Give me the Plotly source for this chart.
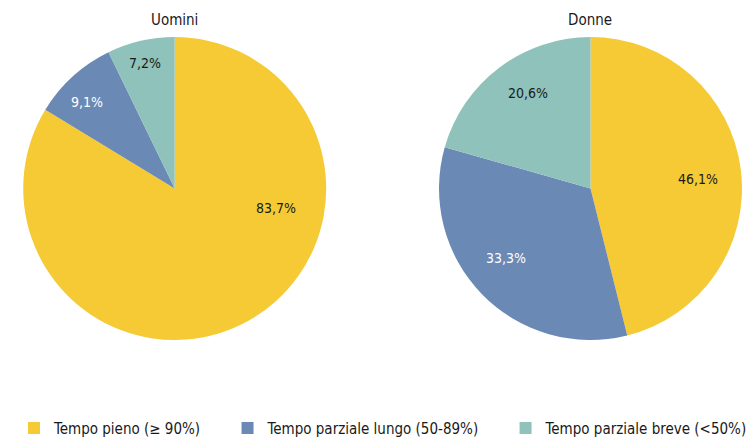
import math
import plotly.graph_objects as go

categories = ["Tempo pieno (≥ 90%)", "Tempo parziale lungo (50-89%)", "Tempo parziale breve (<50%)"]
uomini = [83.7, 9.1, 7.2]
donne = [46.1, 33.3, 20.6]
titles = ["Uomini", "Donne"]

# styles
colors = ["#F5CA35", "#6A89B4", "#8EC2BA"]
text_colors = ["#1a1a1a", "#ffffff", "#1a1a1a"]
FONT = "DejaVu Sans Condensed, Liberation Sans Narrow, sans-serif"
W, H = 754, 437
domains = [dict(x=[0.0301, 0.4333], y=[0.222, 0.9153]),
           dict(x=[0.5809, 0.9854], y=[0.222, 0.9153])]
# label placement inside each pie: (angle clockwise from 12 o'clock in deg, fraction of radius)
label_polar = [[(100.9, 0.68), (314.7, 0.81), (346.8, 0.85)],
               [(84.9, 0.71), (230.6, 0.72), (326.8, 0.75)]]
PAD = "\u00a0" * 5  # extra spacing between legend entries


def fmt(v):
    return f"{v:.1f}".replace(".", ",") + "%"


legend_names = [c + PAD for c in categories[:-1]] + [categories[-1]]

fig = go.Figure()
for i, (vals, dom) in enumerate(zip([uomini, donne], domains)):
    fig.add_trace(go.Pie(
        labels=legend_names, values=vals, sort=False, direction="clockwise", rotation=0,
        marker=dict(colors=colors, line=dict(width=0)),
        text=[fmt(v) for v in vals], textinfo="none",
        customdata=categories,
        hovertemplate="%{customdata}: %{text}<extra></extra>",
        domain=dom,
        showlegend=(i == 0),
    ))
    cx = (dom["x"][0] + dom["x"][1]) / 2 * W
    cy = (1 - (dom["y"][0] + dom["y"][1]) / 2) * H
    r = min((dom["x"][1] - dom["x"][0]) * W, (dom["y"][1] - dom["y"][0]) * H) / 2
    for v, (ang, fr), tc in zip(vals, label_polar[i], text_colors):
        a = math.radians(ang)
        px = cx + fr * r * math.sin(a)
        py = cy - fr * r * math.cos(a)
        fig.add_annotation(text=fmt(v), x=px / W, y=1 - py / H, xref="paper", yref="paper",
                           showarrow=False, xanchor="center", yanchor="middle",
                           font=dict(size=14, color=tc, family=FONT))
    fig.add_annotation(text=titles[i], x=(dom["x"][0] + dom["x"][1]) / 2, y=1 - 20 / H,
                       xref="paper", yref="paper", showarrow=False,
                       xanchor="center", yanchor="middle",
                       font=dict(size=15, color="#1a1a1a", family=FONT))

fig.update_layout(
    width=W, height=H,
    margin=dict(l=0, r=0, t=0, b=0, autoexpand=False),
    paper_bgcolor="white", plot_bgcolor="white",
    font=dict(family=FONT, size=15, color="#1a1a1a"),
    legend=dict(orientation="h", x=0.0186, xanchor="left", y=-0.018, yanchor="bottom",
                font=dict(size=15, family=FONT, color="#1a1a1a"),
                itemwidth=30, traceorder="normal"),
)

fig.write_html("out.html", post_script="document.body.style.margin='0';",
               config={"displayModeBar": False})
